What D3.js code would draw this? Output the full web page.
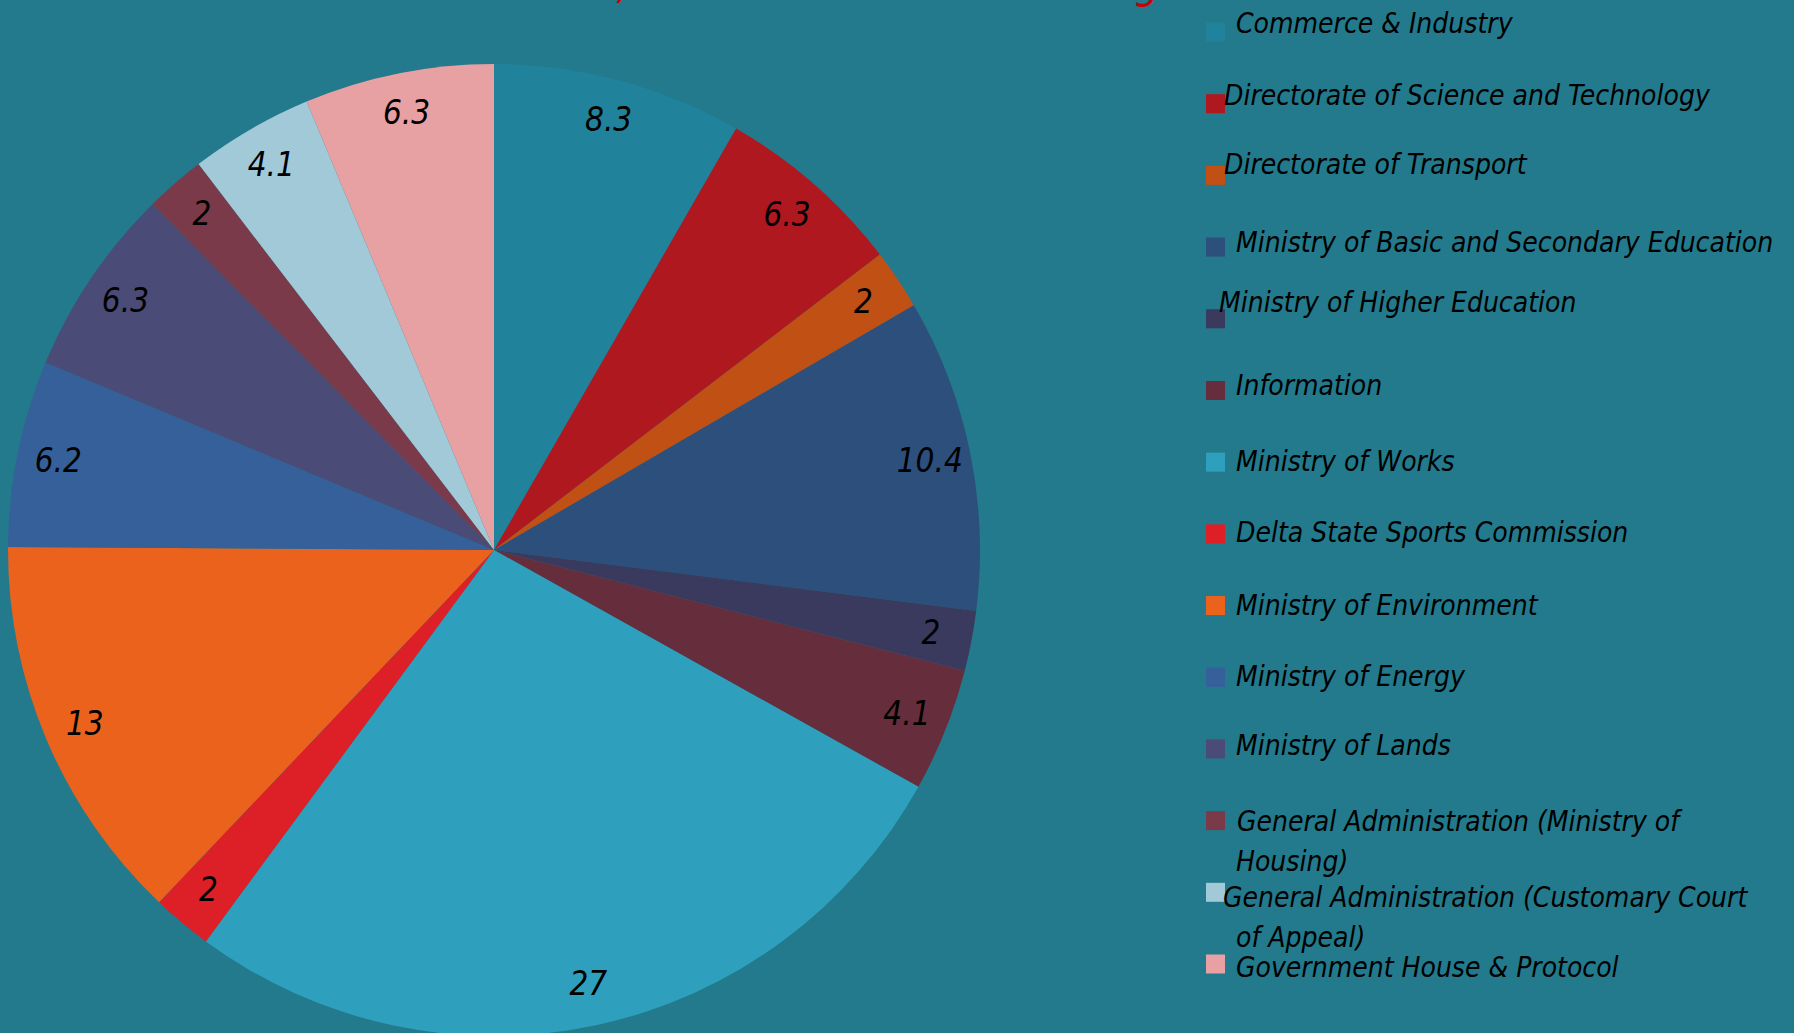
<!DOCTYPE html>
<html>

<head>
  <meta charset="utf-8" />
  <title>Allocation pie</title>
  <style>
    body {
      margin: 0;
      overflow: hidden;
    }

    svg {
      display: block;
    }

    svg text {
      font-family: "DejaVu Sans Condensed", "DejaVu Sans", sans-serif;
      font-stretch: condensed;
      font-style: italic;
    }
  </style>
  <script src="https://cdnjs.cloudflare.com/ajax/libs/d3/7.8.5/d3.min.js"></script>
</head>

<body>
  <div id="chartArea"></div>
  <script>
    var categories = [
      'Commerce & Industry',
      'Directorate of Science and Technology',
      'Directorate of Transport',
      'Ministry of Basic and Secondary Education',
      'Ministry of Higher Education',
      'Information',
      'Ministry of Works',
      'Delta State Sports Commission',
      'Ministry of Environment',
      'Ministry of Energy',
      'Ministry of Lands',
      'General Administration (Ministry of Housing)',
      'General Administration (Customary Court of Appeal)',
      'Government House & Protocol'
    ];
    var values = [8.3, 6.3, 2, 10.4, 2, 4.1, 27, 2, 13, 6.2, 6.3, 2, 4.1, 6.3];
    var colors = ['#21839b', '#b01820', '#c05014', '#2d4f7c', '#3a3a5e', '#662e3c', '#2ea0be',
      '#dd2027', '#ea621c', '#36609a', '#4a4b76', '#7b3a49', '#a2c9d8', '#e8a1a3'];
    var titleText = 'Share of Total Allocation, Delta State MDAs Funding';

    // legend text is not lined up evenly in the original, these nudges copy that
    var legendDx = [11, -1, -1, 11, -6, 11, 11, 11, 11, 11, 11, 12, -2, 11];
    var legendDy = [-9, -9, -11, -5, -17, -5, -1, -2, -1, -1, -4, 0, 5, 3];

    var w = 1794,
      h = 1033,
      cx = 494,
      cy = 550,
      radius = 486;

    var svg = d3.select('#chartArea').append('svg')
      .attr('width', w)
      .attr('height', h);

    svg.append('rect')
      .attr('width', w)
      .attr('height', h)
      .attr('fill', '#227a8c');

    var colorScale = d3.scaleOrdinal()
      .domain(categories)
      .range(colors);

    var pie = d3.pie()
      .sort(null)
      .value(d => d);

    var arc = d3.arc()
      .innerRadius(0)
      .outerRadius(radius);

    var labelArc = d3.arc()
      .innerRadius(radius * 0.915)
      .outerRadius(radius * 0.915);

    var arcs = pie(values);

    var g = svg.append('g')
      .attr('transform', 'translate(' + cx + ',' + cy + ')');

    g.selectAll('path')
      .data(arcs)
      .enter()
      .append('path')
      .attr('d', arc)
      .attr('fill', (d, i) => colorScale(categories[i]));

    g.selectAll('text')
      .data(arcs)
      .enter()
      .append('text')
      .attr('transform', d => 'translate(' + labelArc.centroid(d) + ')')
      .attr('text-anchor', 'middle')
      .attr('dominant-baseline', 'central')
      .attr('dy', -1)
      .attr('font-size', 33)
      .attr('fill', '#000')
      .text(d => d.data);

    // title sits mostly above the top edge, only its descenders show
    svg.append('text')
      .attr('x', 137)
      .attr('y', -2)
      .attr('font-size', 44)
      .attr('fill', '#c8000a')
      .text(titleText);

    // legend
    var legendY = d3.scaleLinear()
      .domain([0, categories.length - 1])
      .range([32, 964]);
    var markerX = 1206,
      markerSize = 19,
      maxTextWidth = 549;

    var legend = svg.append('g');

    categories.forEach(function (name, i) {
      var y = legendY(i);
      legend.append('rect')
        .attr('x', markerX)
        .attr('y', y - markerSize / 2)
        .attr('width', markerSize)
        .attr('height', markerSize)
        .attr('fill', colorScale(name));

      var text = legend.append('text')
        .attr('font-size', 28)
        .attr('fill', '#000')
        .attr('dominant-baseline', 'central');

      // wrap long names
      var words = name.split(' ');
      var line = [];
      var lines = [];
      var probe = text.append('tspan');
      words.forEach(function (word) {
        line.push(word);
        probe.text(line.join(' '));
        if (probe.node().getComputedTextLength() > maxTextWidth && line.length > 1) {
          line.pop();
          lines.push(line.join(' '));
          line = [word];
        }
      });
      lines.push(line.join(' '));
      probe.remove();

      lines.forEach(function (l, k) {
        text.append('tspan')
          .attr('x', k === 0 ? markerX + markerSize + legendDx[i] : markerX + markerSize + 11)
          .attr('y', y + legendDy[i] + k * 40)
          .text(l);
      });
    });
  </script>
</body>

</html>
